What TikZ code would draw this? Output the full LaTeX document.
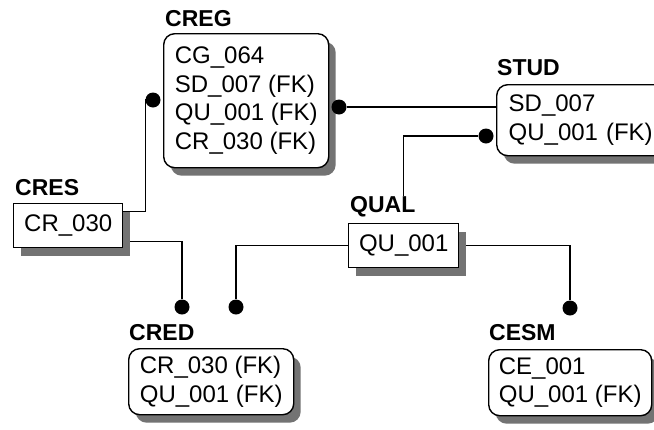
\documentclass[tikz,border=0pt]{standalone}
\usepackage{fontspec}
\setmainfont{Liberation Sans}
\usetikzlibrary{positioning,shadows,backgrounds}

\newcommand{\entfont}{\fontsize{24}{28.5}\selectfont}
\newcommand{\titlefont}{\fontsize{23}{26}\selectfont\bfseries}

\begin{document}
\begin{tikzpicture}[x=1pt, y=-1pt, every node/.style={font=\entfont}]
    \tikzstyle{entity} = [draw=black, line width=1.4pt, rounded corners=11pt, fill=white,
        drop shadow={shadow xshift=7pt, shadow yshift=-8pt, fill=black!55, opacity=1},
        anchor=north west, align=left, inner sep=0pt]
    \tikzstyle{keybox} = [entity, sharp corners]
    \tikzstyle{title} = [font=\titlefont, inner sep=0pt]
    \tikzstyle{dot} = [circle, fill=black, minimum size=15pt, inner sep=0pt]
    \tikzstyle{link} = [line width=1.2pt]
    \useasboundingbox (0,0) rectangle (654,429);

    \node (creg) [entity, minimum width=165pt, minimum height=134pt] at (163,33) {CG\_064\\SD\_007 (FK)\\QU\_001 (FK)\\CR\_030 (FK)};
    \node (stud) [entity, inner xsep=12pt, text width=150pt, minimum height=71pt] at (496,84) {SD\_007\\QU\_001 (FK)};
    \node (cres) [keybox, minimum width=109pt, minimum height=44pt] at (13,203) {CR\_030};
    \node (qual) [keybox, minimum width=110pt, minimum height=44pt] at (348,223) {QU\_001};
    \node (cred) [entity, minimum width=165pt, minimum height=66pt] at (128,348) {CR\_030 (FK)\\QU\_001 (FK)};
    \node (cesm) [entity, minimum width=163pt, minimum height=66pt] at (488,349) {CE\_001\\QU\_001 (FK)};

    \node (cregT) [title, above right=6pt and 2pt of creg.north west] {CREG};
    \node (studT) [title, above right=8pt and 1pt of stud.north west] {STUD};
    \node (cresT) [title, above right=7pt and 2pt of cres.north west] {CRES};
    \node (qualT) [title, above right=6pt and 2pt of qual.north west] {QUAL};
    \node (credT) [title, above right=7pt and 1pt of cred.north west] {CRED};
    \node (cesmT) [title, above right=8pt and 1pt of cesm.north west] {CESM};

    \node (dCregL) [dot] at (153,100) {};
    \node (dCregR) [dot] at (339,107) {};
    \node (dStud) [dot] at (486,136) {};
    \node (dCredA) [dot] at (182,307) {};
    \node (dCredB) [dot] at (236,307) {};
    \node (dCesm) [dot] at (570,308) {};

    \begin{pgfonlayer}{background}
        \fill [white] (0,0) rectangle (654,429);
        \draw [link] (dCregL.center) -- (dCregL.west) |- ([yshift=14pt]cres.east);
        \draw [link] ([yshift=-16pt]cres.east) -| (dCredA);
        \draw [link] (qual.west) -| (dCredB);
        \draw [link] (qual.east) -| (dCesm);
        \draw [link] (qualT.north -| qual.north) |- (dStud);
        \draw [link] (dCregR) -- (dCregR -| stud.west);
    \end{pgfonlayer}
\end{tikzpicture}
\end{document}
